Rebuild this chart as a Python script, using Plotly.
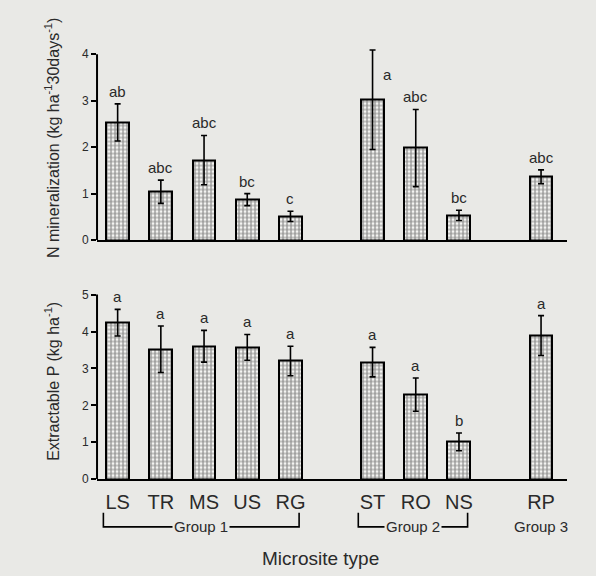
import plotly.graph_objects as go

# ---- data ----
sites = ["LS", "TR", "MS", "US", "RG", "ST", "RO", "NS", "RP"]
site_group = [1, 1, 1, 1, 1, 2, 2, 2, 3]
group_names = ["Group 1", "Group 2", "Group 3"]

n_min = [2.53, 1.04, 1.72, 0.87, 0.51, 3.02, 1.98, 0.53, 1.36]
n_err = [0.40, 0.25, 0.53, 0.13, 0.11, 1.07, 0.83, 0.11, 0.15]
n_letters = ["ab", "abc", "abc", "bc", "c", "a", "abc", "bc", "abc"]
n_label_side = ["top", "top", "top", "top", "top", "right", "top", "top", "top"]

p_ext = [4.24, 3.52, 3.60, 3.57, 3.20, 3.17, 2.29, 1.01, 3.89]
p_err = [0.36, 0.63, 0.43, 0.35, 0.40, 0.40, 0.45, 0.24, 0.54]
p_letters = ["a", "a", "a", "a", "a", "a", "a", "b", "a"]
p_label_side = ["top"] * 9

# ---- layout helpers ----
GAP = 0.9
pos = [i + GAP * (g - 1) for i, g in enumerate(site_group)]
BG = "#e9e9e6"
TXT = "#2a2a2a"
FONT = "Liberation Sans, Arial, sans-serif"

bar_style = dict(
    color="#f2f2f0",
    line=dict(color="black", width=2),
    pattern=dict(shape="+", size=4, solidity=0.5, fgcolor="#222222", bgcolor="#f4f4f2"),
)

fig = go.Figure()
fig.add_trace(go.Bar(x=pos, y=n_min, width=0.53, marker=bar_style,
                     error_y=dict(type="data", array=n_err, color="black", thickness=1.6, width=3),
                     xaxis="x", yaxis="y", showlegend=False))
fig.add_trace(go.Bar(x=pos, y=p_ext, width=0.53, marker=bar_style,
                     error_y=dict(type="data", array=p_err, color="black", thickness=1.6, width=3),
                     xaxis="x2", yaxis="y2", showlegend=False))

annotations = []
def add_letters(vals, errs, letters, sides, xref, yref):
    for x, v, e, t, s in zip(pos, vals, errs, letters, sides):
        if s == "top":
            annotations.append(dict(x=x, y=v + e, xref=xref, yref=yref, text=t, showarrow=False,
                                    yanchor="bottom", yshift=2, font=dict(size=15, color=TXT)))
        else:
            annotations.append(dict(x=x, y=v + 0.5 * e, xref=xref, yref=yref, text=t, showarrow=False,
                                    xanchor="left", yanchor="middle", xshift=8,
                                    font=dict(size=15, color=TXT)))

add_letters(n_min, n_err, n_letters, n_label_side, "x", "y")
add_letters(p_ext, p_err, p_letters, p_label_side, "x2", "y2")

shapes = [
    dict(type="line", xref="x domain", yref="y", x0=0, x1=0, y0=0, y1=4, line=dict(color="black", width=2)),
    dict(type="line", xref="x2 domain", yref="y2", x0=0, x1=0, y0=0, y1=5, line=dict(color="black", width=2)),
]

# group brackets
BR_TOP, BR_BOT = 0.099, 0.074
for gi, gname in enumerate(group_names, start=1):
    xs = [p for p, g in zip(pos, site_group) if g == gi]
    if len(xs) > 1:
        x0, x1 = xs[0] - 0.33, xs[-1] + 0.2
        shapes.append(dict(type="path", xref="x2", yref="paper",
                           path=f"M {x0} {BR_TOP} L {x0} {BR_BOT} L {x1} {BR_BOT} L {x1} {BR_TOP}",
                           line=dict(color="black", width=1.6)))
        annotations.append(dict(x=(x0 + x1) / 2, y=BR_BOT, xref="x2", yref="paper", text=gname,
                                showarrow=False, bgcolor=BG, borderpad=1,
                                xanchor="center", yanchor="middle",
                                font=dict(size=15, color=TXT)))
    else:
        annotations.append(dict(x=xs[0], y=BR_BOT, xref="x2", yref="paper", text=gname,
                                showarrow=False, xanchor="center", yanchor="middle",
                                font=dict(size=15, color=TXT)))

annotations.append(dict(x=0.537, y=0.019, xref="paper", yref="paper", text="Microsite type",
                        showarrow=False, xanchor="center", yanchor="middle",
                        font=dict(size=19, color=TXT)))

xr = [-0.477, 10.40]
yaxis_common = dict(showline=False, ticks="outside", ticklen=5, tickwidth=1.5, tickcolor="black",
                    showgrid=False, zeroline=False, tickfont=dict(size=12, color=TXT), dtick=1)

fig.update_layout(
    width=596, height=576,
    margin=dict(l=0, r=0, t=0, b=0),
    paper_bgcolor=BG, plot_bgcolor=BG,
    font=dict(family=FONT, color=TXT),
    bargap=0,
    xaxis=dict(domain=[0.1628, 0.9513], range=xr, showline=True, linecolor="black", linewidth=2,
               showticklabels=False, ticks="", showgrid=False, zeroline=False, anchor="y"),
    yaxis=dict(domain=[0.5781, 0.9375], range=[0, 4.4], anchor="x",
               title=dict(text="N mineralization (kg ha<sup>-1</sup>30days<sup>-1</sup>)",
                          font=dict(size=16, color=TXT), standoff=18),
               tickvals=[0, 1, 2, 3, 4], **yaxis_common),
    xaxis2=dict(domain=[0.1628, 0.9513], range=xr, showline=True, linecolor="black", linewidth=2,
                tickvals=pos, ticktext=sites, ticks="outside", ticklen=4, tickcolor="rgba(0,0,0,0)",
                tickfont=dict(size=20, color=TXT),
                showgrid=False, zeroline=False, anchor="y2"),
    yaxis2=dict(domain=[0.158, 0.5017], range=[0, 5.3], anchor="x2",
                title=dict(text="Extractable P (kg ha<sup>-1</sup>)",
                           font=dict(size=16, color=TXT), standoff=18),
                tickvals=[0, 1, 2, 3, 4, 5], **yaxis_common),
    shapes=shapes,
    annotations=annotations,
)

fig.write_html("out.html")
